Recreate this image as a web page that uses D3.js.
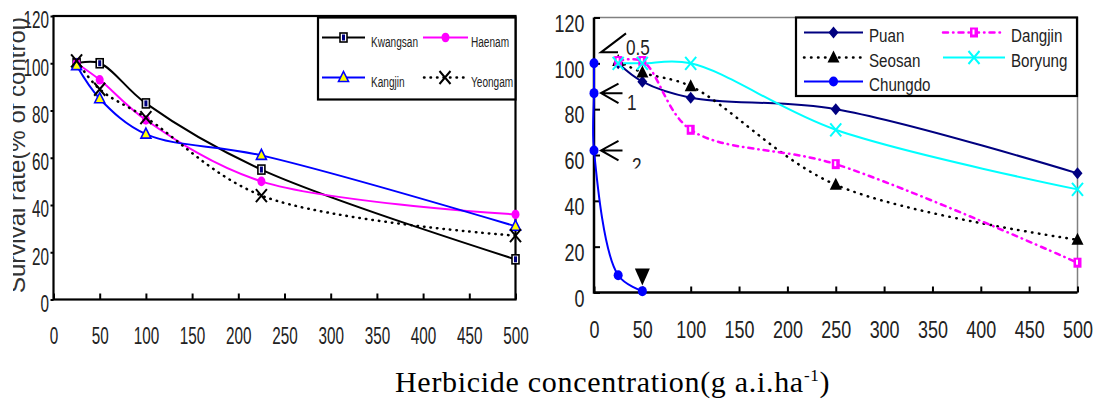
<!DOCTYPE html>
<html>
<head>
<meta charset="utf-8">
<script src="https://cdn.jsdelivr.net/npm/d3@7"></script>
<style>
body { margin: 0; background: #fff; }
</style>
</head>
<body>
<div id="chart"></div>
<script>
// dados - painel esquerdo
var concLeft = [25, 50, 100, 225, 500];
var kwangsan = [100, 100, 83, 55, 17];
var haenam = [100, 93, 76, 50, 36];
var kangjin = [99, 85, 70, 61, 31];
var yeongam = [101, 89, 77, 44, 27];

// dados - painel direito
var concRight = [25, 50, 100, 250, 500];
var puan = [100, 92, 85, 80, 52];
var seosan = [101, 96, 90, 47, 23];
var dangjin = [101, 101, 71, 56, 13];
var boryung = [100, 100, 100, 71, 45];
var chungdoConc = [0, 0, 0, 25, 50];
var chungdo = [100, 87, 62, 7.5, 0.6];

// anotacoes (setas nos pontos de Chungdo em x = 0)
var doseLabels = ["0.5", "1", "2"];
var downConc = [50];
var downVal = [7];

var xTicks = [0, 50, 100, 150, 200, 250, 300, 350, 400, 450, 500];
var yTicks = [0, 20, 40, 60, 80, 100, 120];

var leftSeries = [
    { name: "Kwangsan", x: concLeft, v: kwangsan, color: "#000000", dash: null, marker: "sqNavy" },
    { name: "Haenam", x: concLeft, v: haenam, color: "#ff00ff", dash: null, marker: "circle" },
    { name: "Kangjin", x: concLeft, v: kangjin, color: "#0000ff", dash: null, marker: "triYellow" },
    { name: "Yeongam", x: concLeft, v: yeongam, color: "#000000", dash: "0.5,6", marker: "xBlack" }
];
var rightSeries = [
    { name: "Puan", x: concRight, v: puan, color: "#000080", dash: null, marker: "diamond" },
    { name: "Seosan", x: concRight, v: seosan, color: "#000000", dash: "0.5,6.5", marker: "triBlack" },
    { name: "Chungdo", x: chungdoConc, v: chungdo, color: "#0000ff", dash: null, marker: "circleBlue" },
    { name: "Dangjin", x: concRight, v: dangjin, color: "#ff00ff", dash: "5,5,0.5,5", marker: "sqMagenta" },
    { name: "Boryung", x: concRight, v: boryung, color: "#00ffff", dash: null, marker: "xCyan" }
];

var FONT = "'Liberation Sans', Arial, sans-serif";

var svg = d3.select("#chart").append("svg")
    .attr("width", 1097)
    .attr("height", 403);

// texto comprimido na horizontal (fonte estreita do original)
function squeeze(sel, sx) {
    sel.each(function () {
        var t = d3.select(this);
        var x = +t.attr("x") || 0;
        var y = +t.attr("y") || 0;
        t.attr("x", 0).attr("y", 0)
            .attr("transform", `translate(${x},${y}) scale(${sx},1)`);
    });
}

function drawMarker(g, type, cx, cy) {
    if (type == "sqNavy") {
        g.append("rect").attr("x", cx - 3.5).attr("y", cy - 4.5).attr("width", 7).attr("height", 9)
            .attr("fill", "#fff").attr("stroke", "#000").attr("stroke-width", 1.6);
        g.append("rect").attr("x", cx - 1.5).attr("y", cy - 3).attr("width", 3).attr("height", 6)
            .attr("fill", "#000080");
    } else if (type == "circle") {
        g.append("ellipse").attr("cx", cx).attr("cy", cy).attr("rx", 4).attr("ry", 4.8).attr("fill", "#ff00ff");
    } else if (type == "triYellow") {
        g.append("path").attr("d", `M${cx},${cy - 6} L${cx + 5},${cy + 4} L${cx - 5},${cy + 4} Z`)
            .attr("fill", "#ffff00").attr("stroke", "#0000ff").attr("stroke-width", 1.6);
    } else if (type == "xBlack" || type == "xCyan") {
        var c = type == "xBlack" ? "#000" : "#00ffff";
        g.append("path").attr("d", `M${cx - 5.5},${cy - 6.5} L${cx + 5.5},${cy + 6.5} M${cx + 5.5},${cy - 6.5} L${cx - 5.5},${cy + 6.5}`)
            .attr("stroke", c).attr("stroke-width", 2).attr("fill", "none");
    } else if (type == "diamond") {
        g.append("path").attr("d", `M${cx},${cy - 6} L${cx + 5},${cy} L${cx},${cy + 6} L${cx - 5},${cy} Z`)
            .attr("fill", "#000080");
    } else if (type == "triBlack") {
        g.append("path").attr("d", `M${cx},${cy - 7} L${cx + 6},${cy + 5} L${cx - 6},${cy + 5} Z`)
            .attr("fill", "#000");
    } else if (type == "sqMagenta") {
        g.append("rect").attr("x", cx - 4).attr("y", cy - 5).attr("width", 8).attr("height", 10).attr("fill", "#ff00ff");
        g.append("rect").attr("x", cx - 1.5).attr("y", cy - 3).attr("width", 2).attr("height", 5).attr("fill", "#fff");
    } else if (type == "circleBlue") {
        g.append("ellipse").attr("cx", cx).attr("cy", cy).attr("rx", 4.5).attr("ry", 5).attr("fill", "#0000ff");
    }
}

function drawSeries(g, series, x, y) {
    var line = d3.line()
        .x(d => x(d[0]))
        .y(d => y(d[1]))
        .curve(d3.curveCatmullRom.alpha(0.5));
    series.forEach(function (s) {
        var pts = s.x.map((c, i) => [c, s.v[i]]);
        g.append("path")
            .datum(pts)
            .attr("fill", "none")
            .attr("stroke", s.color)
            .attr("stroke-width", s.dash ? 2.5 : 2)
            .attr("stroke-dasharray", s.dash)
            .attr("stroke-linecap", s.dash ? "round" : "butt")
            .attr("d", line);
    });
    series.forEach(function (s) {
        s.x.forEach(function (c, i) {
            drawMarker(g, s.marker, x(c), y(s.v[i]));
        });
    });
}

function legendEntry(g, s, x0, x1, yy, tx, fontSize, sx) {
    g.append("line")
        .attr("x1", x0).attr("x2", x1).attr("y1", yy).attr("y2", yy)
        .attr("stroke", s.color)
        .attr("stroke-width", s.dash ? 2.5 : 2)
        .attr("stroke-dasharray", s.dash)
        .attr("stroke-linecap", s.dash ? "round" : "butt");
    drawMarker(g, s.marker, (x0 + x1) / 2, yy);
    g.append("text")
        .attr("x", tx).attr("y", yy + 9)
        .attr("font-size", fontSize)
        .attr("fill", "#222")
        .text(s.name)
        .call(squeeze, sx);
}

function styleAxis(a, size) {
    a.select(".domain").remove();
    a.selectAll("line").attr("stroke", "#000").attr("stroke-width", 2);
    a.selectAll("text").attr("font-size", size).attr("fill", "#222").attr("font-family", FONT);
}

// ---------------- painel esquerdo ----------------
var xL = d3.scaleLinear().domain([0, 500]).range([53.5, 515.5]);
var yL = d3.scaleLinear().domain([0, 120]).range([299.5, 16]);
var gL = svg.append("g").attr("font-family", FONT);

var axL = gL.append("g")
    .attr("transform", "translate(" + xL(0) + ",0)")
    .call(d3.axisLeft(yL).tickValues(yTicks).tickSize(3).tickPadding(1.5));
var axB = gL.append("g")
    .attr("transform", "translate(0," + yL(0) + ")")
    .call(d3.axisBottom(xL).tickValues(xTicks).tickSize(-6).tickPadding(28));
styleAxis(axL, 23.5);
styleAxis(axB, 23.5);
axL.selectAll("text").attr("dy", "0.5em").call(squeeze, 0.65);
axB.selectAll("text").call(squeeze, 0.65);

gL.append("rect")
    .attr("x", xL(0)).attr("y", yL(120))
    .attr("width", xL(500) - xL(0)).attr("height", yL(0) - yL(120))
    .attr("fill", "none").attr("stroke", "#000").attr("stroke-width", 2.2);

drawSeries(gL, leftSeries, xL, yL);

// legenda esquerda
var legL = gL.append("g");
legL.append("rect").attr("x", 318).attr("y", 17.5).attr("width", 197.5).attr("height", 82)
    .attr("fill", "#fff").attr("stroke", "#000").attr("stroke-width", 2.2);
legendEntry(legL, leftSeries[0], 322, 365, 37.5, 371, 15.5, 0.65);
legendEntry(legL, leftSeries[1], 423, 468, 37.5, 471, 15.5, 0.65);
legendEntry(legL, leftSeries[2], 322, 365, 77.5, 371, 15.5, 0.65);
legendEntry(legL, leftSeries[3], 424, 466, 77.5, 471, 15.5, 0.65);

// titulo do eixo y (cortado na borda)
svg.append("clipPath").attr("id", "clipY")
    .append("rect").attr("x", 13).attr("y", 0).attr("width", 40).attr("height", 403);
svg.append("g")
    .attr("clip-path", "url(#clipY)")
    .append("text")
    .attr("transform", "translate(24.5,293) rotate(-90)")
    .attr("font-family", FONT)
    .attr("font-size", 24)
    .attr("fill", "#333")
    .text("Survival rate(% of control)");

// ---------------- painel direito ----------------
var xR = d3.scaleLinear().domain([0, 500]).range([594, 1077.5]);
var yR = d3.scaleLinear().domain([0, 120]).range([292.5, 17.5]);
var gR = svg.append("g").attr("font-family", FONT);

gR.append("path")
    .attr("d", `M${xR(0)},${yR(120)} L${xR(500)},${yR(120)} L${xR(500)},${yR(0)}`)
    .attr("fill", "none").attr("stroke", "#808080").attr("stroke-width", 1.5);

var axL2 = gR.append("g")
    .attr("transform", "translate(" + xR(0) + ",0)")
    .call(d3.axisLeft(yR).tickValues(yTicks).tickSize(-6).tickPadding(9.5));
var axB2 = gR.append("g")
    .attr("transform", "translate(0," + yR(0) + ")")
    .call(d3.axisBottom(xR).tickValues(xTicks).tickSize(-6).tickPadding(29));
styleAxis(axL2, 23);
styleAxis(axB2, 23);
axL2.selectAll("text").attr("dy", "0.6em").call(squeeze, 0.78);
axB2.selectAll("text").call(squeeze, 0.78);

gR.append("path")
    .attr("d", `M${xR(0)},${yR(120)} L${xR(0)},${yR(0)} L${xR(500)},${yR(0)}`)
    .attr("fill", "none").attr("stroke", "#000").attr("stroke-width", 2.5);

drawSeries(gR, rightSeries, xR, yR);

// triangulo invertido
downConc.forEach(function (c, i) {
    var cx = xR(c), cy = yR(downVal[i]);
    gR.append("path")
        .attr("d", `M${cx - 7.5},${cy - 8} L${cx + 7.5},${cy - 8} L${cx},${cy + 9} Z`)
        .attr("fill", "#000");
});

// setas das doses
svg.append("clipPath").attr("id", "clipDose")
    .append("rect").attr("x", 0).attr("y", 0).attr("width", 1097).attr("height", 168.5);
var gA = gR.append("g").attr("clip-path", "url(#clipDose)");
doseLabels.forEach(function (lab, i) {
    var tx = xR(chungdoConc[i]) + 7, ty = yR(chungdo[i]);
    var t;
    if (i == 0) {
        ty = ty - 11;
        gA.append("path")
            .attr("d", `M${tx + 25},${ty - 19} L${tx},${ty} L${tx + 17},${ty}`)
            .attr("fill", "none").attr("stroke", "#000").attr("stroke-width", 2);
        t = gA.append("text").attr("x", tx + 25).attr("y", ty + 3);
    } else {
        gA.append("path")
            .attr("d", `M${tx + 17.5},${ty - 9.5} L${tx},${ty} L${tx + 17.5},${ty + 10} M${tx},${ty} L${tx + 21.5},${ty}`)
            .attr("fill", "none").attr("stroke", "#000").attr("stroke-width", 2);
        t = gA.append("text").attr("x", i == 1 ? tx + 26 : tx + 31).attr("y", i == 1 ? ty + 17 : ty + 23);
    }
    t.attr("font-size", 22).attr("fill", "#222").text(lab).call(squeeze, 0.78);
});

// legenda direita
var legR = gR.append("g");
legR.append("rect").attr("x", 796).attr("y", 17.5).attr("width", 281).attr("height", 78.5)
    .attr("fill", "#fff").attr("stroke", "#000").attr("stroke-width", 2.2);
legendEntry(legR, rightSeries[0], 804, 863, 32.5, 869, 18.5, 0.82);
legendEntry(legR, rightSeries[1], 804, 863, 57.5, 869, 18.5, 0.82);
legendEntry(legR, rightSeries[2], 804, 863, 81.5, 869, 18.5, 0.82);
legendEntry(legR, rightSeries[3], 943, 1005, 32.5, 1011, 18.5, 0.82);
legendEntry(legR, rightSeries[4], 943, 1005, 57.5, 1011, 18.5, 0.82);

// titulo do eixo x
var title = svg.append("text")
    .attr("x", 395).attr("y", 391.5)
    .attr("font-family", "'Liberation Serif', 'Times New Roman', serif")
    .attr("font-size", 30)
    .attr("letter-spacing", 0.7)
    .attr("fill", "#000");
title.append("tspan").text("Herbicide concentration(g a.i.ha");
title.append("tspan").attr("font-size", 17).attr("dy", -11).text("-1");
title.append("tspan").attr("dy", 11).text(")");
</script>
</body>
</html>
